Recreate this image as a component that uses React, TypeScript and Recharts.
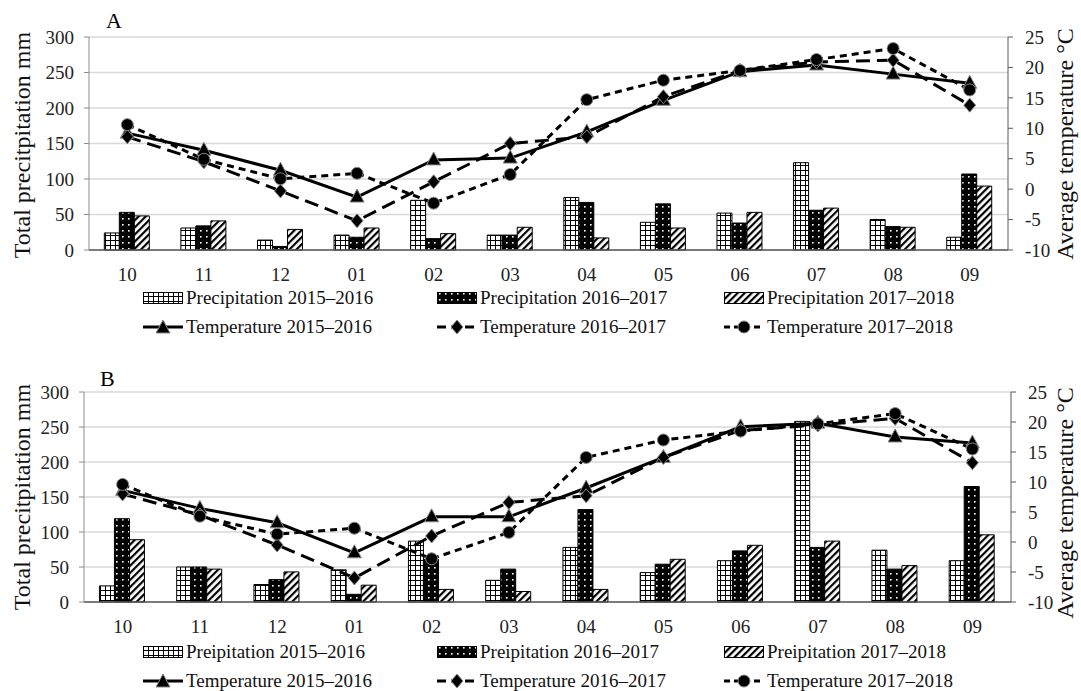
import React from "react";
import { ComposedChart, Bar, Line, XAxis, YAxis, CartesianGrid } from "recharts";

const months = ["10", "11", "12", "01", "02", "03", "04", "05", "06", "07", "08", "09"];

// panel A
const precipA1 = [24, 31, 14, 21, 70, 21, 74, 39, 52, 123, 43, 18];
const precipA2 = [53, 34, 5, 18, 16, 21, 67, 65, 38, 56, 33, 107];
const precipA3 = [48, 41, 29, 31, 23, 32, 17, 31, 53, 59, 32, 90];
const tempA1 = [9.2, 6.4, 3.1, -1.3, 4.8, 5.1, 9.4, 14.6, 19.3, 20.4, 18.9, 17.4];
const tempA2 = [8.6, 4.5, -0.3, -5.2, 1.2, 7.5, 8.6, 15.2, 19.5, 20.9, 21.2, 13.8];
const tempA3 = [10.6, 4.9, 1.7, 2.6, -2.3, 2.4, 14.7, 17.9, 19.5, 21.3, 23.1, 16.3];

// panel B
const precipB1 = [23, 50, 25, 46, 87, 31, 78, 42, 59, 258, 74, 59];
const precipB2 = [119, 50, 32, 11, 61, 47, 132, 54, 73, 78, 47, 165];
const precipB3 = [89, 47, 43, 24, 18, 15, 18, 61, 81, 87, 52, 96];
const tempB1 = [8.6, 5.6, 3.2, -1.8, 4.2, 4.2, 9.0, 14.1, 19.2, 19.8, 17.5, 16.5];
const tempB2 = [8.0, 4.5, -0.5, -6.0, 1.0, 6.6, 7.7, 14.1, 18.6, 19.5, 20.6, 13.2];
const tempB3 = [9.6, 4.3, 1.3, 2.3, -2.8, 1.6, 14.1, 17.0, 18.5, 19.7, 21.4, 15.5];

const precipTicks = [0, 50, 100, 150, 200, 250, 300];
const tempTicks = [-10, -5, 0, 5, 10, 15, 20, 25];

const FONT = "'Liberation Serif', 'Times New Roman', serif";
const TICK = { fill: "#222", fontSize: 19, fontFamily: FONT };

const build = (p1: number[], p2: number[], p3: number[], t1: number[], t2: number[], t3: number[]) =>
  months.map((m, i) => ({ month: m, p1: p1[i], p2: p2[i], p3: p3[i], t1: t1[i], t2: t2[i], t3: t3[i] }));

const dataA = build(precipA1, precipA2, precipA3, tempA1, tempA2, tempA3);
const dataB = build(precipB1, precipB2, precipB3, tempB1, tempB2, tempB3);

function Triangle({ cx, cy }: any) {
  return <polygon points={`${cx},${cy - 8} ${cx - 7},${cy + 5} ${cx + 7},${cy + 5}`} fill="#000" stroke="#888" strokeWidth={1} />;
}
function Diamond({ cx, cy }: any) {
  return <polygon points={`${cx},${cy - 7} ${cx + 6},${cy} ${cx},${cy + 7} ${cx - 6},${cy}`} fill="#000" stroke="#888" strokeWidth={1} />;
}
function Dot({ cx, cy }: any) {
  return <circle cx={cx} cy={cy} r={6} fill="#000" stroke="#888" strokeWidth={1} />;
}

function Patterns() {
  return (
    <svg width={0} height={0} style={{ position: "absolute" }}>
      <defs>
        <pattern id="pGrid" width={5} height={5} patternUnits="userSpaceOnUse">
          <rect width={5} height={5} fill="#fff" />
          <path d="M0 0.5H5M0.5 0V5" stroke="#000" strokeWidth={1} />
        </pattern>
        <pattern id="pDots" width={6} height={6} patternUnits="userSpaceOnUse">
          <rect width={6} height={6} fill="#000" />
          <rect x={2} y={2} width={1.6} height={1.6} fill="#fff" />
        </pattern>
        <pattern id="pStripe" width={5} height={5} patternUnits="userSpaceOnUse" patternTransform="rotate(45)">
          <rect width={5} height={5} fill="#fff" />
          <rect width={2.2} height={5} fill="#000" />
        </pattern>
      </defs>
    </svg>
  );
}

function Panel({ data, marginLeft, marginRight, height }: any) {
  return (
    <ComposedChart
      width={1081}
      height={height}
      data={data}
      margin={{ top: 37, right: marginRight, bottom: 0, left: marginLeft }}
      barCategoryGap="20%"
      barGap={0}
    >
      <CartesianGrid vertical={false} stroke="#d9d9d9" strokeWidth={1.5} yAxisId="left" />
      <XAxis dataKey="month" tick={TICK} tickLine={false} axisLine={{ stroke: "#595959", strokeWidth: 1.5 }} height={42} tickMargin={12} />
      <YAxis
        yAxisId="left"
        domain={[0, 300]}
        ticks={precipTicks}
        tick={TICK}
        axisLine={{ stroke: "#8c8c8c" }}
        tickLine={{ stroke: "#8c8c8c" }}
        tickSize={5}
        width={40}
        tickMargin={10}
      />
      <YAxis
        yAxisId="right"
        orientation="right"
        domain={[-10, 25]}
        ticks={tempTicks}
        tick={TICK}
        axisLine={{ stroke: "#595959" }}
        tickLine={{ stroke: "#595959" }}
        tickSize={5}
        width={40}
        tickMargin={12}
      />
      <Bar yAxisId="left" dataKey="p1" fill="url(#pGrid)" stroke="#000" strokeWidth={1} isAnimationActive={false} />
      <Bar yAxisId="left" dataKey="p2" fill="url(#pDots)" stroke="#000" strokeWidth={1} isAnimationActive={false} />
      <Bar yAxisId="left" dataKey="p3" fill="url(#pStripe)" stroke="#000" strokeWidth={1} isAnimationActive={false} />
      <Line yAxisId="right" dataKey="t1" stroke="#000" strokeWidth={3} dot={(p: any) => <Triangle key={`a${p.index}`} {...p} />} isAnimationActive={false} />
      <Line yAxisId="right" dataKey="t2" stroke="#000" strokeWidth={3} strokeDasharray="14 7" dot={(p: any) => <Diamond key={`b${p.index}`} {...p} />} isAnimationActive={false} />
      <Line yAxisId="right" dataKey="t3" stroke="#000" strokeWidth={3} strokeDasharray="7 5" dot={(p: any) => <Dot key={`c${p.index}`} {...p} />} isAnimationActive={false} />
    </ComposedChart>
  );
}

function LegendIcon({ kind }: { kind: string }) {
  if (kind.startsWith("p")) {
    const fill = kind === "p1" ? "url(#pGrid)" : kind === "p2" ? "url(#pDots)" : "url(#pStripe)";
    return (
      <svg width={40} height={14} style={{ marginRight: 3 }}>
        <rect x={0.5} y={1.5} width={39} height={11} fill={fill} stroke="#000" strokeWidth={1} />
      </svg>
    );
  }
  const dash = kind === "t1" ? undefined : kind === "t2" ? "9 5" : "6 4";
  return (
    <svg width={40} height={16} style={{ marginRight: 3 }}>
      <line x1={0} y1={8} x2={40} y2={8} stroke="#000" strokeWidth={3} strokeDasharray={dash} />
      {kind === "t1" && <Triangle cx={20} cy={9} />}
      {kind === "t2" && <Diamond cx={20} cy={8} />}
      {kind === "t3" && <Dot cx={20} cy={8} />}
    </svg>
  );
}

function Legend({ top, word }: { top: number; word: string }) {
  const cols = [143, 437, 724];
  const years = ["2015–2016", "2016–2017", "2017–2018"];
  const rows = [
    { y: top, kinds: ["p1", "p2", "p3"], label: word },
    { y: top + 29, kinds: ["t1", "t2", "t3"], label: "Temperature" },
  ];
  return (
    <>
      {rows.map((r) =>
        r.kinds.map((k, i) => (
          <div
            key={k}
            style={{ position: "absolute", left: cols[i], top: r.y - 11, height: 22, display: "flex", alignItems: "center", fontFamily: FONT, fontSize: 19, color: "#111", whiteSpace: "nowrap" }}
          >
            <LegendIcon kind={k} />
            <span>{r.label} {years[i]}</span>
          </div>
        ))
      )}
    </>
  );
}

const titleStyle: React.CSSProperties = {
  position: "absolute",
  fontFamily: FONT,
  fontSize: 24,
  color: "#111",
  whiteSpace: "nowrap",
  transform: "translate(-50%, -50%) rotate(-90deg)",
};

export default function App() {
  return (
    <div style={{ position: "absolute", left: 0, top: 0, width: 1081, height: 691, background: "#fff", overflow: "hidden" }}>
      <Patterns />
      <div style={{ position: "absolute", left: 0, top: 0 }}>
        <Panel data={dataA} marginLeft={49} marginRight={33} height={292} />
      </div>
      <div style={{ position: "absolute", left: 0, top: 355 }}>
        <Panel data={dataB} marginLeft={44} marginRight={30} height={289} />
      </div>

      <div style={{ position: "absolute", left: 106, top: 8, fontFamily: FONT, fontSize: 22 }}>A</div>
      <div style={{ position: "absolute", left: 100, top: 366, fontFamily: FONT, fontSize: 22 }}>B</div>

      <div style={{ ...titleStyle, left: 22, top: 145 }}>Total precitpitation mm</div>
      <div style={{ ...titleStyle, left: 1065, top: 144 }}>Average temperature °C</div>
      <div style={{ ...titleStyle, left: 22, top: 497 }}>Total precitpitation mm</div>
      <div style={{ ...titleStyle, left: 1065, top: 503 }}>Average temperature °C</div>

      <Legend top={298} word="Precipitation" />
      <Legend top={652} word="Preipitation" />
    </div>
  );
}
